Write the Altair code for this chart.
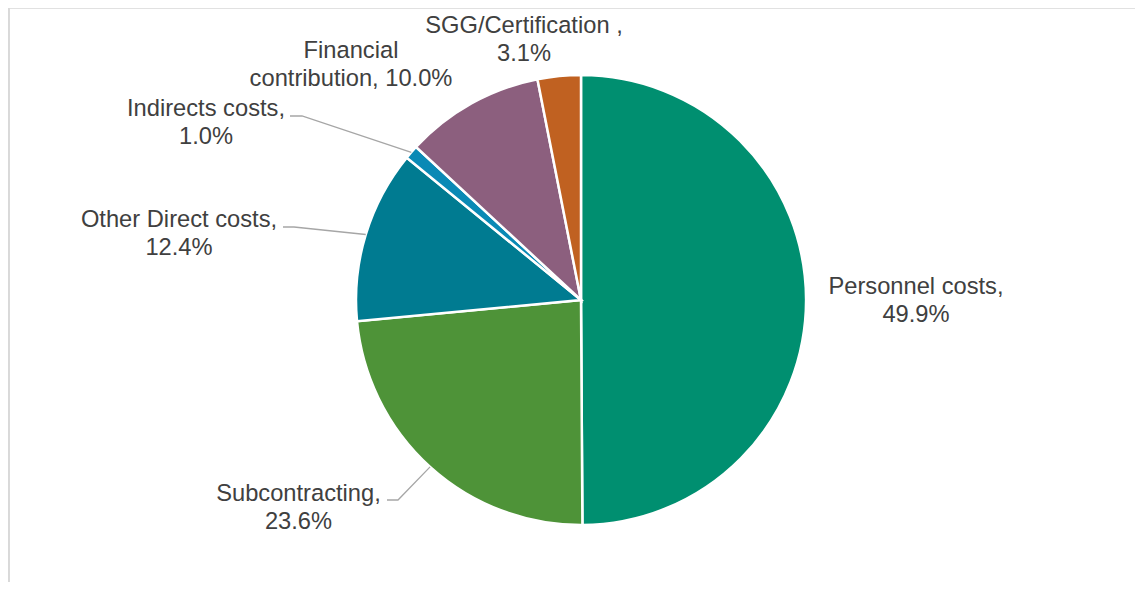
import math
import altair as alt
import pandas as pd

# ---- data ----
categories = ["Personnel costs", "Subcontracting", "Other Direct costs",
              "Indirects costs", "Financial contribution", "SGG/Certification "]
values = [49.9, 23.6, 12.4, 1.0, 10.0, 3.1]
label_lines = [
    ["Personnel costs,", "49.9%"],
    ["Subcontracting,", "23.6%"],
    ["Other Direct costs,", "12.4%"],
    ["Indirects costs,", "1.0%"],
    ["Financial", "contribution, 10.0%"],
    ["SGG/Certification ,", "3.1%"],
]
colors = ["#008F70", "#4E9338", "#007B91", "#0A89B5", "#8C5F7E", "#C06121"]

# ---- layout (page pixels) ----
OX, OY = 12, 12              # image position of the view origin
CX, CY, R = 581, 300, 225    # pie centre and radius (image pixels)
W, H = 1123, 570
label_pos = {               # centre x, first-line baseline y (image pixels)
    "Personnel costs": (916, 294),
    "Subcontracting": (298.5, 501),
    "Other Direct costs": (179, 227),
    "Indirects costs": (206, 116),
    "Financial contribution": (351, 58),
    "SGG/Certification ": (524, 33),
}
leader_pts = {              # label end and elbow of the leader lines (image pixels)
    "Subcontracting": [(387, 500), (398, 500)],
    "Other Direct costs": [(283, 227), (294, 227)],
    "Indirects costs": [(290, 116), (302, 116)],
}

df = pd.DataFrame({"category": categories, "value": values,
                   "order": list(range(len(categories)))})

# label table
total = sum(values)
rows = []
lead_rows = []
cum = 0.0
for cat, v, lines in zip(categories, values, label_lines):
    mid = (cum + v / 2) / total * 2 * math.pi
    cum += v
    lx, ly = label_pos[cat]
    rows.append({"category": cat, "x": lx - OX, "y": ly - OY, "text": lines})
    if cat in leader_pts:
        sx = CX + R * math.sin(mid)
        sy = CY - R * math.cos(mid)
        pts = leader_pts[cat] + [(sx, sy)]
        for i, (px, py) in enumerate(pts):
            lead_rows.append({"category": cat, "i": i, "x": px - OX, "y": py - OY})
labels = pd.DataFrame(rows)
leaders = pd.DataFrame(lead_rows)

pie = alt.Chart(df).mark_arc(outerRadius=R, stroke="white", strokeWidth=2.5).encode(
    theta=alt.Theta("value:Q", stack=True),
    order=alt.Order("order:Q"),
    color=alt.Color("category:N", scale=alt.Scale(domain=categories, range=colors), legend=None),
    x=alt.value(CX - OX),
    y=alt.value(CY - OY),
)

lead = alt.Chart(leaders).mark_line(color="#A6A6A6", strokeWidth=1.3).encode(
    x=alt.X("x:Q", scale=None, axis=None),
    y=alt.Y("y:Q", scale=None, axis=None),
    detail="category:N",
    order="i:Q",
)

text = alt.Chart(labels).mark_text(
    font="Liberation Sans", fontSize=23.7, color="#404040", align="center",
    baseline="alphabetic", lineHeight=28,
).encode(
    x=alt.X("x:Q", scale=None, axis=None),
    y=alt.Y("y:Q", scale=None, axis=None),
    text="text",
)

frame_top = alt.Chart(df).mark_rule(color="#D9D9D9", strokeWidth=1.5).encode(
    x=alt.value(8.75 - OX), x2=alt.value(W), y=alt.value(7.5 - OY)
)
frame_left = alt.Chart(df).mark_rule(color="#D9D9D9", strokeWidth=1.5).encode(
    x=alt.value(8.75 - OX), y=alt.value(7.5 - OY), y2=alt.value(H + 10)
)

chart = alt.layer(frame_top, frame_left, pie, lead, text).properties(
    width=W, height=H,
    autosize=alt.AutoSizeParams(type="none"),
    padding={"left": 4, "top": 4, "right": 0, "bottom": 0},
).configure_view(stroke=None)

chart.save("out.html", embed_options={"renderer": "svg", "actions": False})
